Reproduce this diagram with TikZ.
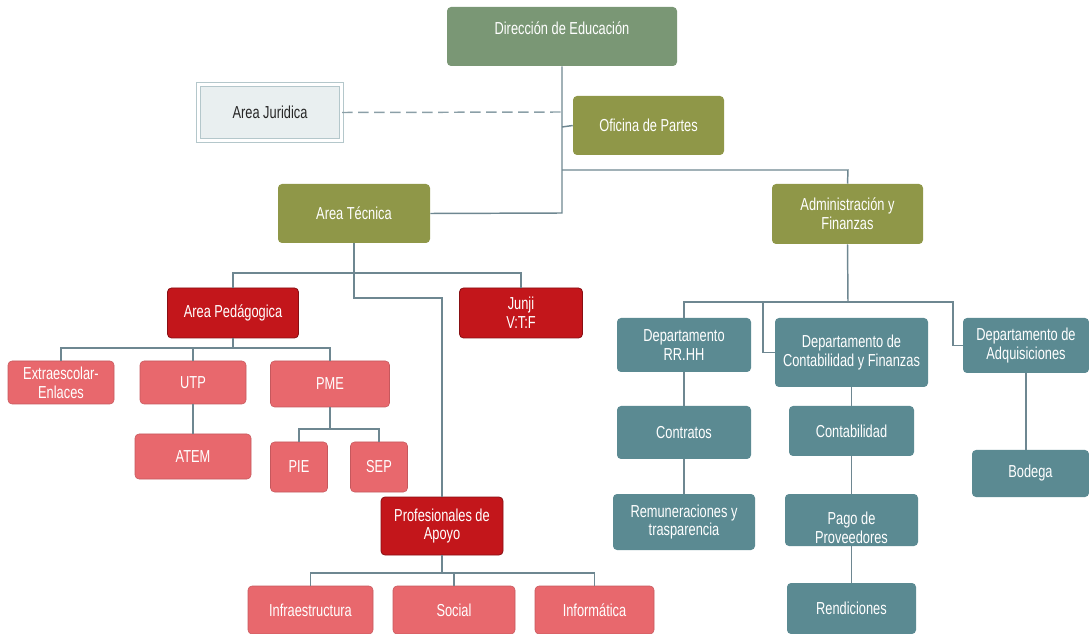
\documentclass[tikz,border=0pt]{standalone}
\usepackage{fontspec}
\setmainfont{Liberation Sans}[FakeStretch=0.74]
\definecolor{cgreen}{HTML}{7A9775}
\definecolor{colive}{HTML}{8F9748}
\definecolor{cdred}{HTML}{C3161B}
\definecolor{clred}{HTML}{E8686D}
\definecolor{cteal}{HTML}{5B8A92}
\definecolor{cline}{HTML}{6E8791}
\definecolor{cjurb}{HTML}{B4C7CB}
\definecolor{cjurf}{HTML}{E9EFF0}
\tikzset{
  box/.style={rounded corners=3pt, text=white, align=center, font=\fontsize{13}{14}\selectfont, inner sep=1pt},
  wh/.style 2 args={minimum width=#1*0.75pt, minimum height=#2*0.75pt},
  green/.style={box, fill=cgreen},
  olive/.style={box, fill=colive},
  dred/.style={box, fill=cdred, draw=cdred!70!black, line width=0.6pt},
  lred/.style={box, fill=clred, draw=clred!85!black, line width=0.4pt},
  teal/.style={box, fill=cteal},
  conn/.style={draw=cline, line width=1.1pt},
  lab/.style={text=white, align=center, font=\fontsize{13}{14}\selectfont},
}
\begin{document}
\begin{tikzpicture}[x=0.75pt,y=-0.75pt]
\useasboundingbox (0,0) rectangle (1089,634);
% nodes
\node[green, wh={230}{59}, text depth=13pt] (dir) at (562,36.5) {Dirección de Educación};
\node[draw=cjurb, double=white, double distance=2pt, fill=cjurf, line width=0.8pt, wh={143}{56}, text=black!85, font=\fontsize{13}{14}\selectfont] (jur) at (270,112.5) {Area Juridica};
\node[olive, wh={151}{59}] (ofi) at (648.5,125.5) {Oficina de Partes};
\node[olive, wh={152}{59}] (tec) at (354,213.5) {Area Técnica};
\node[olive, wh={151}{60}] (adm) at (847.5,214) {Administración y\\Finanzas};
% area tecnica branch
\node[dred, wh={131}{50}] (ped) at (233,313) {Area Pedágogica};
\node[dred, wh={123}{50}] (jun) at (521,313) {Junji\\V:T:F};
\node[lred, wh={106}{43}] (ext) at (61,382.5) {Extraescolar-\\Enlaces};
\node[lred, wh={106}{43}] (utp) at (193,382.5) {UTP};
\node[lred, wh={119}{46}] (pme) at (330,384) {PME};
\node[lred, wh={116}{45}] (atem) at (193,456.5) {ATEM};
\node[lred, wh={57}{50}] (pie) at (299,467) {PIE};
\node[lred, wh={57}{50}] (sep) at (379,467) {SEP};
\node[dred, wh={122}{58}] (pro) at (442,526) {Profesionales de\\Apoyo};
\node[lred, wh={125}{48}] (inf) at (310.5,610) {Infraestructura};
\node[lred, wh={122}{48}] (soc) at (454,610) {Social};
\node[lred, wh={119}{48}] (infm) at (594.5,610) {Informática};
% admin branch
\node[teal, wh={134}{54}] (rrhh) at (684,345) {Departamento\\RR.HH};
\node[teal, wh={153}{69}] (cyf) at (851.5,352.5) {Departamento de\\Contabilidad y Finanzas};
\node[teal, wh={126}{55}] (adq) at (1026,345.5) {Departamento de\\Adquisiciones};
\node[teal, wh={134}{53}] (con) at (684,432.5) {Contratos};
\node[teal, wh={125}{50}] (cont) at (851.5,431) {Contabilidad};
\node[teal, wh={142}{56}] (rem) at (684,522) {Remuneraciones y\\trasparencia};
\node[teal, wh={133}{52}, label={[lab, yshift=-6pt]center:{Pago de\\Proveedores}}] (pago) at (851.5,520) {};
\node[teal, wh={129}{51}] (ren) at (851.5,608.5) {Rendiciones};
\node[teal, wh={117}{47}] (bod) at (1030.5,473.5) {Bodega};
% coordinates
\coordinate (dirx) at (562,213);
\coordinate (oj) at (562,127);
\coordinate (jj) at (562,112);
\coordinate (aj) at (562,170);
\coordinate (ah) at (848,170);
\coordinate (tb) at (354,273);
\coordinate (tp) at (354,298);
\coordinate (pb) at (233,348);
\coordinate (pm) at (330,429);
\coordinate (prb) at (442,573);
\coordinate (ab) at (848,302);
\coordinate (ar) at (953,302);
\coordinate (ac) at (763,302);
% connectors
\draw[conn] (dir.south) -- (dirx) -- (tec.east);
\draw[conn] (oj) -- (ofi.west);
\draw[conn] (aj) -- (ah) -- (adm.north);
\draw[conn, dash pattern=on 8pt off 4pt, draw=cline!80] (jur.east) -- (jj);
\draw[conn] (tec.south) -- (tb);
\draw[conn] (ped.north) |- (tb) -| (jun.north);
\draw[conn] (tb) -- (tp) -| (pro.north);
\draw[conn] (ped.south) -- (pb);
\draw[conn] (ext.north) |- (pb) -| (pme.north);
\draw[conn] (utp.north) -- (utp.north |- pb);
\draw[conn] (utp.south) -- (atem.north);
\draw[conn] (pme.south) -- (pm);
\draw[conn] (pie.north) |- (pm) -| (sep.north);
\draw[conn] (pro.south) -- (prb);
\draw[conn] (inf.north) |- (prb) -| (infm.north);
\draw[conn] (soc.north) -- (soc.north |- prb);
\draw[conn] (adm.south) -- (ab);
\draw[conn] (rrhh.north) |- (ab) -- (ar) |- (adq.west);
\draw[conn] (ac) |- (cyf.west);
\draw[conn] (rrhh.south) -- (con.north);
\draw[conn] (con.south) -- (rem.north);
\draw[conn] (cyf.south) -- (cont.north);
\draw[conn] (cont.south) -- (pago.north);
\draw[conn] (pago.south) -- (ren.north);
\draw[conn] (adq.south) -- (adq.south |- bod.north);
\end{tikzpicture}
\end{document}
